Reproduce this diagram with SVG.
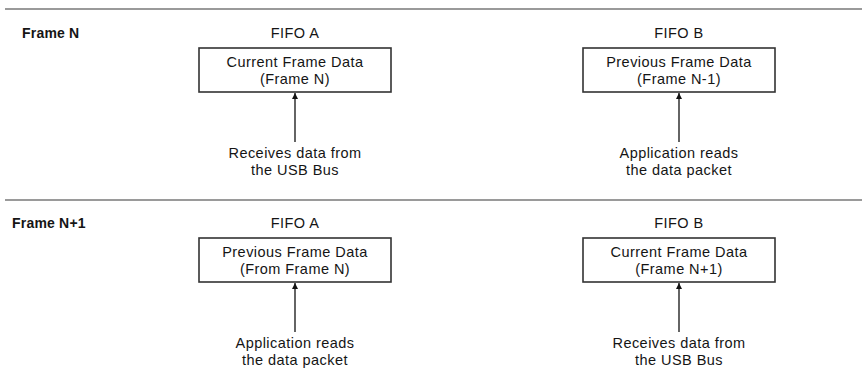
<svg xmlns="http://www.w3.org/2000/svg" width="862" height="372" viewBox="0 0 862 372">
  <style>
    text { font-family: "Liberation Sans", Arial, Helvetica, sans-serif; font-size: 14.5px; fill: #151515; letter-spacing: 0.45px; }
    .c { text-anchor: middle; }
    .frame { font-weight: bold; font-size: 14px; letter-spacing: 0.2px; }
    .sep { stroke: #9a9a9a; stroke-width: 2; }
    .box { fill: #fff; stroke: #333; stroke-width: 1.6; }
    .wire { stroke: #111; stroke-width: 1.3; fill: none; marker-end: url(#arrow); }
  </style>
  <defs>
    <marker id="arrow" viewBox="0 0 10 10" refX="10" refY="5" markerWidth="6" markerHeight="9" markerUnits="userSpaceOnUse" orient="auto">
      <path d="M0,0 L10,5 L0,10 z" fill="#111"/>
    </marker>
  </defs>

  <!-- row separators -->
  <line class="sep" x1="5" y1="9" x2="862" y2="9"/>
  <line class="sep" x1="5" y1="200" x2="862" y2="200"/>

  <!-- row titles -->
  <text class="frame" x="22" y="38">Frame N</text>
  <text class="frame" x="12" y="228">Frame N+1</text>

  <!-- Frame N : FIFO A -->
  <g id="frameN-fifoA">
    <text class="c" x="295" y="38">FIFO A</text>
    <rect class="box" x="199" y="48" width="192" height="44"/>
    <text class="c" x="295" y="67">Current Frame Data</text>
    <text class="c" x="295" y="84">(Frame N)</text>
  </g>
  <g id="frameN-fifoA-src">
    <text class="c" x="295" y="158">Receives data from</text>
    <text class="c" x="295" y="175">the USB Bus</text>
  </g>

  <!-- Frame N : FIFO B -->
  <g id="frameN-fifoB">
    <text class="c" x="679" y="38">FIFO B</text>
    <rect class="box" x="583" y="48" width="192" height="44"/>
    <text class="c" x="679" y="67">Previous Frame Data</text>
    <text class="c" x="679" y="84">(Frame N-1)</text>
  </g>
  <g id="frameN-fifoB-src">
    <text class="c" x="679" y="158">Application reads</text>
    <text class="c" x="679" y="175">the data packet</text>
  </g>

  <!-- Frame N+1 : FIFO A -->
  <g id="frameN1-fifoA">
    <text class="c" x="295" y="228">FIFO A</text>
    <rect class="box" x="199" y="238" width="192" height="44"/>
    <text class="c" x="295" y="257">Previous Frame Data</text>
    <text class="c" x="295" y="274">(From Frame N)</text>
  </g>
  <g id="frameN1-fifoA-src">
    <text class="c" x="295" y="348">Application reads</text>
    <text class="c" x="295" y="365">the data packet</text>
  </g>

  <!-- Frame N+1 : FIFO B -->
  <g id="frameN1-fifoB">
    <text class="c" x="679" y="228">FIFO B</text>
    <rect class="box" x="583" y="238" width="192" height="44"/>
    <text class="c" x="679" y="257">Current Frame Data</text>
    <text class="c" x="679" y="274">(Frame N+1)</text>
  </g>
  <g id="frameN1-fifoB-src">
    <text class="c" x="679" y="348">Receives data from</text>
    <text class="c" x="679" y="365">the USB Bus</text>
  </g>

  <!-- connectors -->
  <g id="connectors">
    <line class="wire" x1="295" y1="142" x2="295" y2="93"/>
    <line class="wire" x1="679" y1="142" x2="679" y2="93"/>
    <line class="wire" x1="295" y1="332" x2="295" y2="283"/>
    <line class="wire" x1="679" y1="332" x2="679" y2="283"/>
  </g>
</svg>
